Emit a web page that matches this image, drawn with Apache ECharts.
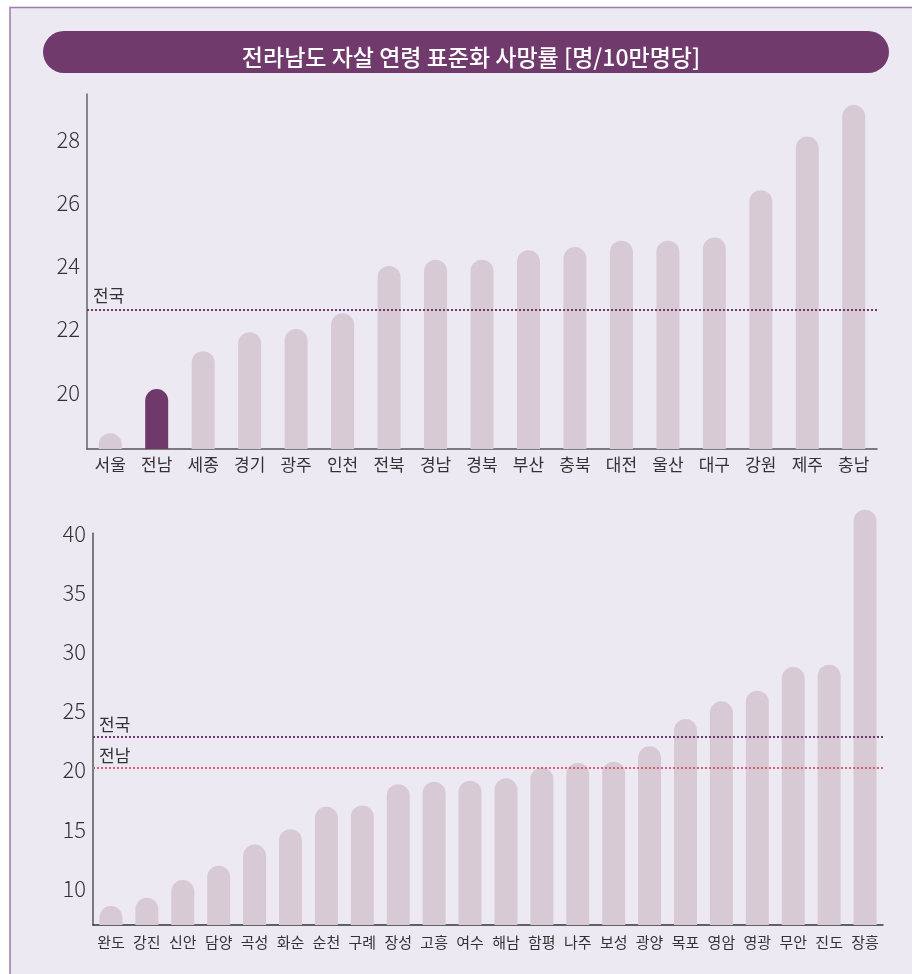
<!DOCTYPE html>
<html>
<head>
<meta charset="utf-8">
<script src="https://cdn.jsdelivr.net/npm/echarts@6/dist/echarts.min.js"></script>
<style>
  html, body { margin: 0; padding: 0; background: #ffffff; }
  #chart { width: 912px; height: 974px; }
</style>
</head>
<body>
<div id="chart"></div>
<script>
// 시도별 자살 연령 표준화 사망률 (명/10만명당)
const provinces = ['서울', '전남', '세종', '경기', '광주', '인천', '전북', '경남', '경북', '부산', '충북', '대전', '울산', '대구', '강원', '제주', '충남'];
const provinceRates = [18.7, 20.1, 21.3, 21.9, 22.0, 22.5, 24.0, 24.2, 24.2, 24.5, 24.6, 24.8, 24.8, 24.9, 26.4, 28.1, 29.1];

// 전라남도 시군별 자살 연령 표준화 사망률
const counties = ['완도', '강진', '신안', '담양', '곡성', '화순', '순천', '구례', '장성', '고흥', '여수', '해남', '함평', '나주', '보성', '광양', '목포', '영암', '영광', '무안', '진도', '장흥'];
const countyRates = [8.5, 9.2, 10.7, 11.9, 13.7, 15.0, 16.9, 17.0, 18.8, 19.0, 19.1, 19.3, 20.2, 20.6, 20.7, 22.0, 24.3, 25.8, 26.7, 28.7, 28.9, 42.0];

// 기준선
const nationalRateTop = 22.6;
const nationalRateBottom = 22.8;
const jeonnamRate = 20.2;

// 눈금 라벨
const topTicks = [20, 22, 24, 26, 28];
const bottomTicks = [10, 15, 20, 25, 30, 35, 40];

const highlightName = '전남';

const FONT = '"Noto Sans CJK KR", "Noto Sans", sans-serif';
const BAR = '#d8cad5';
const BAR_HI = '#6f3a6b';
const PURPLE = '#6f3a6b';
const RED = '#d9606e';
const TEXT = '#333333';

const chart = echarts.init(document.getElementById('chart'), null, { renderer: 'canvas' });

const barStyle = { color: BAR, borderRadius: [11.5, 11.5, 0, 0] };
const refLabel = { show: true, position: 'insideStartTop', formatter: '{b}', color: TEXT, fontSize: 17, fontFamily: FONT };

const option = {
  animation: false,
  backgroundColor: '#ffffff',
  textStyle: { fontFamily: FONT },
  graphic: [
    {
      type: 'rect', z: -10, silent: true,
      shape: { x: 10, y: 7.5, width: 930, height: 990 },
      style: { fill: '#ece9f3', stroke: '#a07aa8', lineWidth: 1.5 }
    },
    {
      type: 'rect', z: -5, silent: true,
      shape: { x: 43, y: 31, width: 846, height: 42, r: 21 },
      style: { fill: '#703b6c' }
    }
  ],
  title: {
    text: '전라남도 자살 연령 표준화 사망률 [명/10만명당]',
    left: 466, top: 52, textAlign: 'center', textVerticalAlign: 'middle',
    textStyle: { color: '#ffffff', fontSize: 23, fontWeight: 500, fontFamily: FONT }
  },
  grid: [
    // 시도별
    { left: 87, right: 35, top: 94, height: 355 },
    // 시군별 막대 (최댓값 막대가 축 위로 올라감)
    { left: 93, right: 29, top: 506.1, bottom: 49 },
    // 시군별 세로축 선
    { left: 93, right: 29, top: 533.3, bottom: 49 }
  ],
  xAxis: [
    {
      gridIndex: 0, type: 'category', data: provinces,
      axisLine: { lineStyle: { color: '#555555', width: 1.5 } },
      axisTick: { show: false },
      axisLabel: { interval: 0, color: TEXT, fontSize: 17, margin: 7, fontFamily: FONT }
    },
    {
      gridIndex: 1, type: 'category', data: counties,
      axisLine: { lineStyle: { color: '#333333', width: 1.5 } },
      axisTick: { show: false },
      axisLabel: { interval: 0, color: TEXT, fontSize: 15, margin: 10, fontFamily: FONT }
    },
    {
      gridIndex: 2, type: 'category', data: counties, show: false
    }
  ],
  yAxis: [
    {
      gridIndex: 0, type: 'value', min: 18.2, max: 29.45,
      axisLine: { show: true, lineStyle: { color: '#666666', width: 1.5 } },
      axisTick: { show: false },
      splitLine: { show: false },
      axisLabel: { customValues: topTicks, color: TEXT, fontSize: 22, fontWeight: 300, margin: 7, fontFamily: FONT }
    },
    {
      gridIndex: 1, type: 'value', min: 6.9, max: 42.3,
      axisLine: { show: false },
      axisTick: { show: false },
      splitLine: { show: false },
      axisLabel: { customValues: bottomTicks, color: TEXT, fontSize: 22, fontWeight: 300, margin: 7, fontFamily: FONT }
    },
    {
      gridIndex: 2, type: 'value', min: 6.9, max: 40,
      axisLine: { show: true, lineStyle: { color: '#555555', width: 1.5 } },
      axisTick: { show: false },
      splitLine: { show: false },
      axisLabel: { show: false }
    }
  ],
  series: [
    {
      type: 'bar', xAxisIndex: 0, yAxisIndex: 0, barWidth: 23, silent: true,
      data: provinces.map((name, i) => ({
        value: provinceRates[i],
        itemStyle: name === highlightName ? { color: BAR_HI } : {}
      })),
      itemStyle: barStyle,
      markLine: {
        silent: true, symbol: 'none',
        label: Object.assign({ distance: [6, 6] }, refLabel),
        lineStyle: { color: PURPLE, type: [2, 2], width: 2 },
        data: [{ name: '전국', yAxis: nationalRateTop }]
      }
    },
    {
      type: 'bar', xAxisIndex: 1, yAxisIndex: 1, barWidth: 23, silent: true,
      data: countyRates,
      itemStyle: barStyle,
      markLine: {
        silent: true, symbol: 'none',
        label: Object.assign({ distance: [6, 4] }, refLabel),
        data: [
          { name: '전국', yAxis: nationalRateBottom, lineStyle: { color: PURPLE, type: [2, 2], width: 2 } },
          { name: '전남', yAxis: jeonnamRate, lineStyle: { color: RED, type: [2, 2], width: 2 } }
        ]
      }
    }
  ]
};

chart.setOption(option);
</script>
</body>
</html>
